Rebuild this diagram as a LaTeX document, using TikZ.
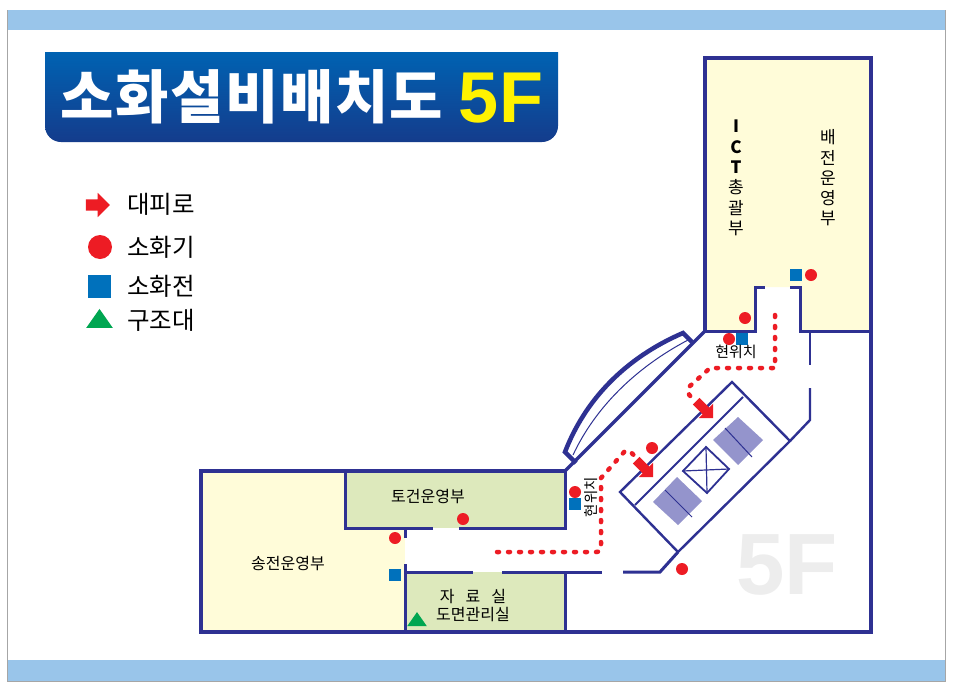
\documentclass[tikz,border=0pt]{standalone}
\usepackage{fontspec}
\setmainfont{Noto Sans CJK KR}
\newfontfamily\latinbold{Liberation Sans}[BoldFont={Liberation Sans Bold}]
\usetikzlibrary{arrows.meta, positioning, shapes.geometric, shapes.arrows}
\definecolor{wall}{HTML}{2E3192}
\definecolor{barblue}{HTML}{99C5EA}
\definecolor{titletop}{HTML}{0062B2}
\definecolor{titlebot}{HTML}{143C8C}
\definecolor{roomyellow}{HTML}{FFFCD9}
\definecolor{roomgreen}{HTML}{DDE9BC}
\definecolor{firered}{HTML}{ED1C24}
\definecolor{hydrant}{HTML}{0071BC}
\definecolor{rescue}{HTML}{00A651}
\definecolor{stairs}{HTML}{9494CC}

\begin{document}
\begin{tikzpicture}[
    x=1pt, y=-1pt,
    every node/.style={font=\fontsize{16}{18}\selectfont, inner sep=0pt, text=black},
    outer_wall/.style={draw=wall, line width=4.5pt, line join=miter},
    inner_wall/.style={draw=wall, line width=3pt},
    thin_wall/.style={draw=wall, line width=2.4pt},
    extinguisher/.style={circle, fill=firered, minimum size=12pt},
    hydrant_box/.style={rectangle, fill=hydrant, minimum size=11.5pt},
    rescue_box/.style={isosceles triangle, isosceles triangle apex angle=70, shape border rotate=90, fill=rescue, minimum height=14pt, minimum width=16pt},
    exit_arrow/.style={single arrow, fill=firered, inner ysep=4.5pt, minimum height=24pt, single arrow head extend=5.5pt, single arrow tip angle=90},
    route/.style={draw=firered, line width=4.5pt, line cap=round, dash pattern=on 2pt off 9pt},
    legend_text/.style={font=\fontsize{24.5}{26}\selectfont, anchor=center},
    stair_box/.style={fill=stairs, draw=none},
    vert_text/.style={align=center, font=\fontsize{17}{20.3}\selectfont}
]
\useasboundingbox (0,0) rectangle (956,691);
\fill[white] (0,0) rectangle (956,691);

% frame and bars
\draw[gray!70, line width=1pt] (7.5,10) rectangle (945.5,681);
\fill[barblue] (8,10) rectangle (945,30);
\fill[barblue] (8,660) rectangle (945,681);

% title
\path[top color=titletop, bottom color=titlebot]
    (45,52) -- (558,52) -- (558,126) arc[start angle=0, end angle=90, radius=16] -- (61,142)
    arc[start angle=90, end angle=180, radius=16] -- cycle;
\node[text=white, font=\fontsize{58}{60}\bfseries\selectfont, anchor=center] (title) at (252,97) {소\hspace{1.5pt}화\hspace{1.5pt}설\hspace{1.5pt}비\hspace{1.5pt}배\hspace{1.5pt}치\hspace{1.5pt}도};
\node[text=yellow, font=\latinbold\fontsize{72}{74}\bfseries\selectfont, anchor=center] (title_floor) at (501,98) {5F};

% legend
\node[exit_arrow, inner ysep=5.5pt, minimum height=24pt, single arrow head extend=6.5pt] (legend_exit) at (95,205) {};
\node[circle, fill=firered, minimum size=24pt] (legend_ext) at (100,247) {};
\node[rectangle, fill=hydrant, minimum size=23pt] (legend_hyd) at (99.5,286.5) {};
\node[isosceles triangle, isosceles triangle apex angle=70, shape border rotate=90, fill=rescue, minimum height=19pt, minimum width=24pt] (legend_res) at (99.5,321) {};
\node[legend_text] (label_exit) at (161,204) {대피로};
\node[legend_text] (label_ext) at (161,247) {소화기};
\node[legend_text] (label_hyd) at (161,286) {소화전};
\node[legend_text] (label_res) at (161,320) {구조대};

% watermark
\node[text=black!7, font=\latinbold\fontsize{87}{89}\bfseries\selectfont] (watermark) at (787,565) {5F};

% room fills
\fill[roomyellow] (201,471) rectangle (405,632);
\fill[roomgreen] (345,471) rectangle (565,528);
\fill[roomgreen] (405,572) rectangle (565,632);
\fill[roomyellow] (705,58) -- (871,58) -- (871,331) -- (800,331) -- (800,287) -- (755,287) -- (755,331) -- (705,331) -- cycle;

% shaft
\fill[stair_box] (738,417) -- (763,440) -- (738,465) -- (713,440) -- cycle;
\fill[stair_box] (677,477) -- (702,501) -- (678,525) -- (653,502) -- cycle;
\draw[wall, line width=1pt] (725,428) -- (752,457);
\draw[wall, line width=1pt] (665,490) -- (692,517);
\draw[thin_wall] (732,382) -- (790,441) -- (678,552) -- (620,492) -- cycle;
\draw[thin_wall, line width=1.8pt] (743,397) -- (635,505);
\draw[thin_wall, line width=1.8pt] (706,447) -- (729,469) -- (707,493) -- (683,471) -- cycle;
\draw[wall, line width=1.2pt] (706,447) -- (707,493);
\draw[wall, line width=1.2pt] (683,471) -- (729,469);

% curved wall
\draw[draw=wall, line width=4.5pt, line join=miter] (576,463) -- (565,452) .. controls (585,400) and (625,358) .. (683,333) -- (692,342);
\draw[wall, line width=1pt] (573,455) .. controls (595,408) and (635,368) .. (688,340);

% walls
\draw[outer_wall] (565,471) -- (201,471) -- (201,632) -- (871,632) -- (871,58) -- (705,58) -- (705,331);
\draw[draw=wall, line width=3.5pt] (705,331) -- (565,471);
\draw[inner_wall] (345,471) -- (345,528) -- (433,528);
\draw[inner_wall] (459,528) -- (565,528) -- (565,471);
\draw[inner_wall] (405,528) -- (405,538);
\draw[inner_wall] (405,564) -- (405,632);
\draw[inner_wall] (405,572) -- (473,572);
\draw[inner_wall] (502,572) -- (602,572);
\draw[inner_wall] (565,572) -- (565,632);
\draw[inner_wall] (623,572) -- (660,572) -- (678,552);
\draw[inner_wall] (705,331) -- (755,331) -- (755,287) -- (765,287);
\draw[inner_wall] (790,287) -- (800,287) -- (800,331) -- (871,331);
\draw[thin_wall] (810,331) -- (810,365);
\draw[thin_wall] (810,388) -- (810,420) -- (790,441);

% evacuation routes
\draw[route] (775,315) -- (775,368) -- (710,368) -- (690,386) .. controls (686,391) and (688,394) .. (692,398);
\draw[route] (497,552) -- (596,552) .. controls (600,552) and (601,550) .. (601,546) -- (601,478) -- (625,451) .. controls (629,449) and (632,453) .. (637,459);
\node[exit_arrow, rotate=-45] (arrow_upper) at (703,408) {};
\node[exit_arrow, rotate=-45] (arrow_lower) at (643,467) {};

% equipment
\node[extinguisher] (ext_a) at (811,275) {};
\node[extinguisher] (ext_b) at (745,318) {};
\node[extinguisher] (ext_c) at (729,339) {};
\node[extinguisher] (ext_d) at (652,448) {};
\node[extinguisher] (ext_e) at (575,492) {};
\node[extinguisher] (ext_f) at (682,569) {};
\node[extinguisher] (ext_g) at (463,519) {};
\node[extinguisher] (ext_h) at (395,538) {};
\node[hydrant_box] (hyd_a) at (796,275) {};
\node[hydrant_box] (hyd_b) at (742,339) {};
\node[hydrant_box] (hyd_c) at (575,504) {};
\node[hydrant_box] (hyd_d) at (395,575) {};
\node[rescue_box] (res_a) at (417,621) {};

% labels
\node[font=\fontsize{15}{17}\selectfont] (here_top) at (736,352) {현위치};
\node[rotate=90, font=\fontsize{14.5}{17}\selectfont] (here_low) at (591,497) {현위치};
\node (room_civil) at (428,497) {토건운영부};
\node (room_power) at (288,563) {송전운영부};
\node (room_data) at (473,596) {자\hspace{11pt}료\hspace{11pt}실};
\node (room_maps) at (473,615) {도면관리실};
\node[vert_text] (room_ict) at (736,178) {\textbf{I}\\\textbf{C}\\\textbf{T}\\총\\괄\\부};
\node[vert_text] (room_dist) at (828,178) {배\\전\\운\\영\\부};
\end{tikzpicture}
\end{document}
